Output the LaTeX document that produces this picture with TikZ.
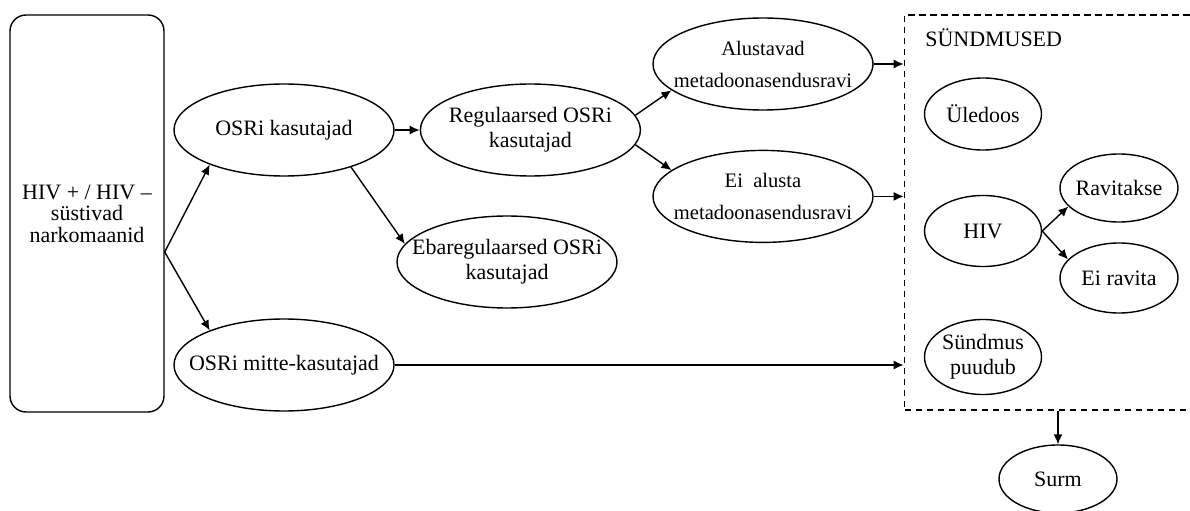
\documentclass[tikz,border=0pt]{standalone}
\usepackage{fontspec}
\setmainfont{Liberation Serif}
\usepackage{tikz}
\usetikzlibrary{arrows.meta,positioning,shapes.geometric}

\begin{document}
\begin{tikzpicture}[
  font=\fontsize{12.5}{14.2}\selectfont,
  group/.style={draw, rounded corners=0.32cm, align=center, minimum width=3.08cm, minimum height=7.94cm, line width=0.8pt},
  oval/.style={draw, ellipse, align=center, inner xsep=-1.5cm, inner ysep=-0.6cm, minimum width=4.4cm, minimum height=1.84cm, line width=0.8pt},
  narrow/.style={oval, font=\fontsize{11.7}{14.2}\selectfont},
  small/.style={oval, minimum width=2.34cm, minimum height=1.42cm},
  eventbox/.style={draw, dash pattern=on 1.3mm off 0.9mm, minimum width=6.6cm, minimum height=7.9cm, line width=0.9pt},
  arrow/.style={-{Latex[length=2mm, width=1.8mm]}, line width=0.8pt}
]
\useasboundingbox (0,0) rectangle (23.8,-10.22);
\node[group] (start) at (1.74,-4.27) {HIV + / HIV –\\[-2pt]süstivad\\[-2pt]narkomaanid};
\node[oval] (osri) at (5.68,-2.6) {OSRi kasutajad};
\node[oval, right=0.5cm of osri] (reg) {Regulaarsed OSRi\\kasutajad};
\node[oval] (ebareg) at (10.14,-5.24) {Ebaregulaarsed OSRi\\kasutajad};
\node[oval] (mitte) at (5.68,-7.3) {OSRi mitte-kasutajad};
\node[narrow] (alust) at (15.26,-1.28) {Alustavad\\[4pt]metadoonasendusravi};
\node[narrow, below=0.78cm of alust] (eialusta) {Ei\ \ alusta\\[4pt]metadoonasendusravi};
\node[eventbox] (events) at (21.39,-4.25) {};
\node[anchor=base west, inner sep=0pt] (title) at (18.5,-0.94) {SÜNDMUSED};
\node[small, minimum height=1.44cm] (uledoos) at (19.66,-2.28) {Üledoos};
\node[small] (hiv) at (19.66,-4.62) {HIV};
\node[small, minimum width=2.36cm, minimum height=1.36cm] (ravi) at (22.38,-3.76) {Ravitakse};
\node[small, minimum width=2.36cm, minimum height=1.4cm] (eiravi) at (22.38,-5.56) {Ei ravita};
\node[small, minimum height=1.5cm] (puudub) at (19.66,-7.14) {Sündmus\\puudub};
\node[small, minimum width=2.36cm, minimum height=1.36cm] (surm) at (21.16,-9.58) {Surm};
% connectors
\coordinate (fork) at ([yshift=-0.77cm]start.east);
\draw[arrow] (fork) -- (osri.205);
\draw[arrow] (fork) -- (mitte.155);
\draw[arrow] (osri) -- (reg);
\draw[arrow] (osri.-29) -- (ebareg.170);
\draw[arrow] (reg.8) -- (alust.196);
\draw[arrow] (reg.-8) -- (eialusta.164);
\draw[arrow] (alust.east) -- (alust.east -| events.west);
\draw[arrow] (eialusta.east) -- (eialusta.east -| events.west);
\draw[arrow] (mitte.east) -- (mitte.east -| events.west);
\draw[arrow] (hiv.east) -- (ravi.200);
\draw[arrow] (hiv.east) -- (eiravi.160);
\draw[arrow] (surm |- events.south) -- (surm);
\end{tikzpicture}
\end{document}
